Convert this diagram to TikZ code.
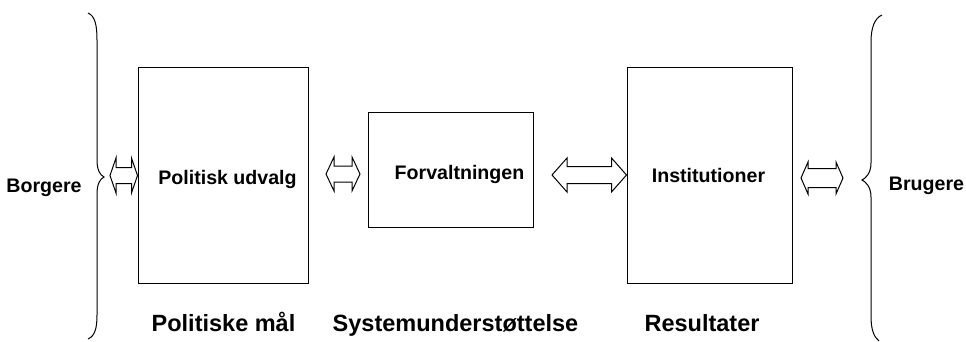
\documentclass[tikz,border=0pt]{standalone}
\usepackage{fontspec}
\setmainfont{Liberation Sans}
\usetikzlibrary{positioning,calc}
\tikzset{%
  box/.style={draw,line width=1pt,inner sep=0pt},
  txt/.style={font=\bfseries\fontsize{19.6}{24}\selectfont,inner sep=0pt,anchor=base},
  big/.style={font=\bfseries\fontsize{23.5}{28}\selectfont,inner sep=0pt,anchor=base},
  arr/.style={draw,line width=1pt,line join=miter},
  brc/.style={draw,line width=1pt}
}
\newcommand{\dblarr}[5]{%
  \draw[arr] (#1) -- ($(#1)+(#3,-#4)$) -- ($(#1)+(#3,-#5)$) -- ($(#2)+(-#3,-#5)$)
    -- ($(#2)+(-#3,-#4)$) -- (#2) -- ($(#2)+(-#3,#4)$) -- ($(#2)+(-#3,#5)$)
    -- ($(#1)+(#3,#5)$) -- ($(#1)+(#3,#4)$) -- cycle;}

\begin{document}
\begin{tikzpicture}[x=1pt,y=-1pt]
  \useasboundingbox (0,0) rectangle (966,342);

  \node[box,minimum width=170pt,minimum height=215pt] (pu) at (223,175.5) {};
  \node[box,minimum width=165pt,minimum height=114pt] (fv) at (450.5,170) {};
  \node[box,minimum width=165pt,minimum height=215pt] (inst) at (709.5,175.5) {};

  \node[txt] (pu-t) at (227.5,184.5) {Politisk udvalg};
  \node[txt] (fv-t) at (459.5,179) {Forvaltningen};
  \node[txt] (inst-t) at (708.5,182.7) {Institutioner};
  \node[txt] (borg) at (44,192) {Borgere};
  \node[txt] (brug) at (926.5,190) {Brugere};

  \node[big] (maal) at (223.5,331) {Politiske mål};
  \node[big] (sys) at (455.5,331) {Systemunderstøttelse};
  \node[big] (res) at (702,331) {Resultater};

  % braces
  \coordinate (ltip) at (104,177);
  \coordinate (rtip) at (862,180);
  \draw[brc] (88,13) .. controls (95,16) and (97,25) .. (97,40) -- (97,160)
    .. controls (97,170) and (100,175) .. (ltip)
    .. controls (100,179) and (97,184) .. (97,194) -- (97,315)
    .. controls (97,328) and (95,336) .. (88,339);
  \draw[brc] (882,15) .. controls (875,18) and (871,27) .. (871,42) -- (871,163)
    .. controls (871,173) and (866,178) .. (rtip)
    .. controls (866,182) and (871,187) .. (871,197) -- (871,316)
    .. controls (871,330) and (874,337) .. (879,341);

  % arrows
  \coordinate (a1l) at (110,175.5);
  \coordinate (a1r) at (pu.west |- a1l);
  \dblarr{a1l}{a1r}{6}{17.5}{8}
  \coordinate (a2l) at (326,174);
  \coordinate (a2r) at (360,174);
  \dblarr{a2l}{a2r}{8}{17}{8}
  \coordinate (a3l) at (552,175);
  \coordinate (a3r) at (inst.west |- a3l);
  \dblarr{a3l}{a3r}{15}{17}{8.5}
  \coordinate (a4l) at (801,178);
  \coordinate (a4r) at (843,178);
  \dblarr{a4l}{a4r}{7}{16}{9.5}
\end{tikzpicture}
\end{document}
